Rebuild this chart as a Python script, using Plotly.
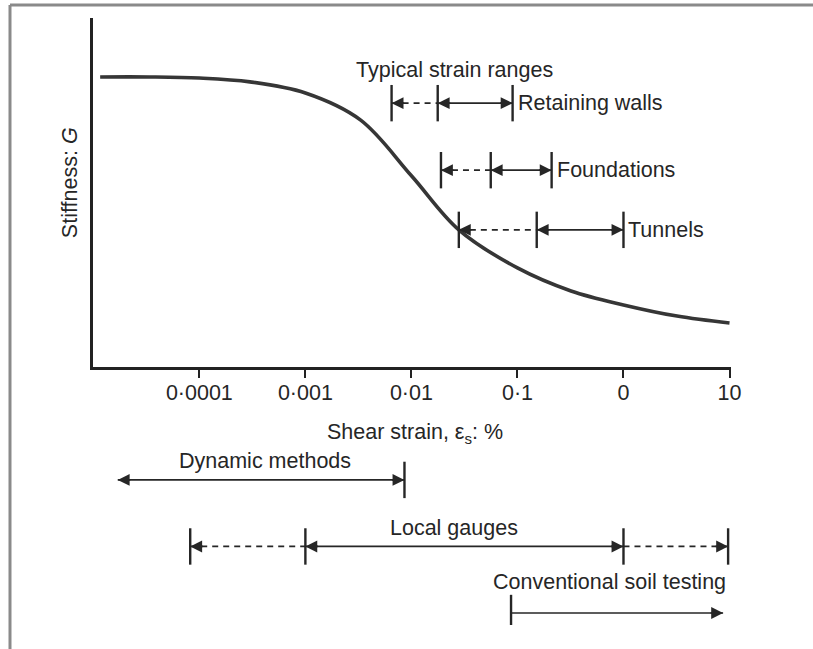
import math
import plotly.graph_objects as go

# ---------------- data ----------------
strain = [1.16e-5, 3.4e-5, 1e-4, 3.0e-4, 1e-3, 3.3e-3, 1e-2, 2.8e-2, 1e-1, 3.2e-1, 1.0, 3.2, 10.0]
stiffness = [0.831, 0.831, 0.828, 0.817, 0.785, 0.708, 0.548, 0.393, 0.284, 0.218, 0.178, 0.146, 0.126]

tick_vals = [1e-4, 1e-3, 1e-2, 1e-1, 1, 10]
tick_text = ["0·0001", "0·001", "0·01", "0·1", "0", "10"]

# typical strain ranges: [start bar, middle bar, end bar]
retaining_walls = [0.0065, 0.0177, 0.09]
foundations = [0.019, 0.056, 0.21]
tunnels = [0.028, 0.152, 1.0]

# testing methods
dynamic_methods = [1.7e-5, 0.0086]
local_gauges = [8.2e-5, 0.001, 1.0, 9.7]
conventional = [0.087, 8.7]

# ---------------- style ----------------
INK = "#262626"
FONT = "Liberation Sans, Arial, sans-serif"
FS = 21.5

fig = go.Figure()

# stiffness curve
fig.add_trace(go.Scatter(x=strain, y=stiffness, mode="lines",
                         line=dict(color="#363636", width=3.6, shape="spline", smoothing=1.0),
                         xaxis="x", yaxis="y", hoverinfo="skip", showlegend=False))

annotations = []


def seg(xs, y, dash, xa, ya):
    fig.add_trace(go.Scatter(x=xs, y=[y] * len(xs), mode="lines",
                             line=dict(color=INK, width=1.7, dash=dash),
                             xaxis=xa, yaxis=ya, hoverinfo="skip", showlegend=False))


def bars(xs, y, xa, ya, size=26):
    fig.add_trace(go.Scatter(x=xs, y=[y] * len(xs), mode="markers",
                             marker=dict(symbol="line-ns", size=size,
                                         line=dict(color=INK, width=2.4)),
                             xaxis=xa, yaxis=ya, hoverinfo="skip", showlegend=False))


def head(xv, y, direction, xa, ya):
    # direction: -1 points left, +1 points right
    annotations.append(dict(x=math.log10(xv), y=y, xref=xa, yref=ya, text="",
                            showarrow=True, ax=-14 * direction, ay=0,
                            arrowhead=2, arrowsize=1.4, arrowwidth=1.7,
                            arrowcolor=INK, standoff=0))


def three_bar_range(vals, y, xa="x", ya="y"):
    a, b, c = vals
    seg([a, b], y, "6px,5px", xa, ya)
    seg([b, c], y, "solid", xa, ya)
    bars(vals, y, xa, ya)
    head(a, y, -1, xa, ya)
    head(b, y, -1, xa, ya)
    head(c, y, +1, xa, ya)


def label(text, x, y, xref, yref, xanchor="center", **kw):
    d = dict(x=x, y=y, xref=xref, yref=yref, text=text, showarrow=False,
             xanchor=xanchor, yanchor="middle",
             font=dict(size=FS, color=INK, family=FONT))
    d.update(kw)
    annotations.append(d)


ROW_RW, ROW_FD, ROW_TN = 0.756, 0.564, 0.393
three_bar_range(retaining_walls, ROW_RW)
three_bar_range(foundations, ROW_FD)
three_bar_range(tunnels, ROW_TN)

for vals, y, txt in [(retaining_walls, ROW_RW, "Retaining walls"),
                     (foundations, ROW_FD, "Foundations"),
                     (tunnels, ROW_TN, "Tunnels")]:
    label(txt, math.log10(vals[-1]), y, "x", "y", xanchor="left", xshift=3)

label("Typical strain ranges", 0.567, 0.851, "paper", "y")

# bottom panel: testing methods
R_DYN, R_LOC, R_CON = 3.0, 2.0, 1.0
# dynamic methods
seg(dynamic_methods, R_DYN, "solid", "x2", "y2")
bars([dynamic_methods[1]], R_DYN, "x2", "y2")
head(dynamic_methods[0], R_DYN, -1, "x2", "y2")
head(dynamic_methods[1], R_DYN, +1, "x2", "y2")
# local gauges
a, b, c, d = local_gauges
seg([a, b], R_LOC, "6px,5px", "x2", "y2")
seg([b, c], R_LOC, "solid", "x2", "y2")
seg([c, d], R_LOC, "6px,5px", "x2", "y2")
bars(local_gauges, R_LOC, "x2", "y2")
head(a, R_LOC, -1, "x2", "y2")
head(b, R_LOC, -1, "x2", "y2")
head(c, R_LOC, +1, "x2", "y2")
head(d, R_LOC, +1, "x2", "y2")
# conventional soil testing
seg(conventional, R_CON, "solid", "x2", "y2")
bars([conventional[0]], R_CON, "x2", "y2")
head(conventional[1], R_CON, +1, "x2", "y2")

label("Dynamic methods", 0.2696, 0.270, "paper", "paper")
label("Local gauges", 0.566, 0.160, "paper", "paper")
label("Conventional soil testing", 0.810, 0.0708, "paper", "paper")
label("Shear strain, ε<sub>s</sub>: %", 0.505, 0.316, "paper", "paper")
label("Stiffness: <i>G</i>", -0.036, 0.728, "paper", "paper", textangle=-90)

shapes = [
    dict(type="line", xref="paper", yref="paper", x0=-0.1301, x1=1.2, y0=1.0214, y1=1.0214,
         line=dict(color="#8a8a8a", width=3)),
    dict(type="line", xref="paper", yref="paper", x0=-0.1301, x1=-0.1301, y0=1.0214, y1=-0.1,
         line=dict(color="#8a8a8a", width=3)),
]

fig.update_layout(
    width=813, height=649,
    margin=dict(l=93, r=82, t=18, b=24),
    paper_bgcolor="white", plot_bgcolor="white",
    showlegend=False,
    font=dict(family=FONT, size=FS, color=INK),
    xaxis=dict(type="log", range=[-5.003, 1.014], domain=[0, 1], anchor="y",
               tickvals=tick_vals, ticktext=tick_text,
               showline=True, linecolor="#222", linewidth=2.6,
               ticks="outside", ticklen=8, tickwidth=2, tickcolor="#222",
               ticklabelstandoff=-4,
               tickfont=dict(size=FS, color=INK, family=FONT),
               showgrid=False, zeroline=False),
    yaxis=dict(range=[0, 1], domain=[0.4250, 1], anchor="x",
               showline=True, linecolor="#222", linewidth=2.6,
               showticklabels=False, ticks="", showgrid=False, zeroline=False),
    xaxis2=dict(type="log", matches="x", domain=[0, 1], anchor="y2", visible=False),
    yaxis2=dict(range=[0.82, 3.60], domain=[0, 0.3048], anchor="x2", visible=False),
    annotations=annotations,
    shapes=shapes,
)

fig.write_html("out.html", config={"displayModeBar": False},
               post_script="document.body.style.margin='0';")
